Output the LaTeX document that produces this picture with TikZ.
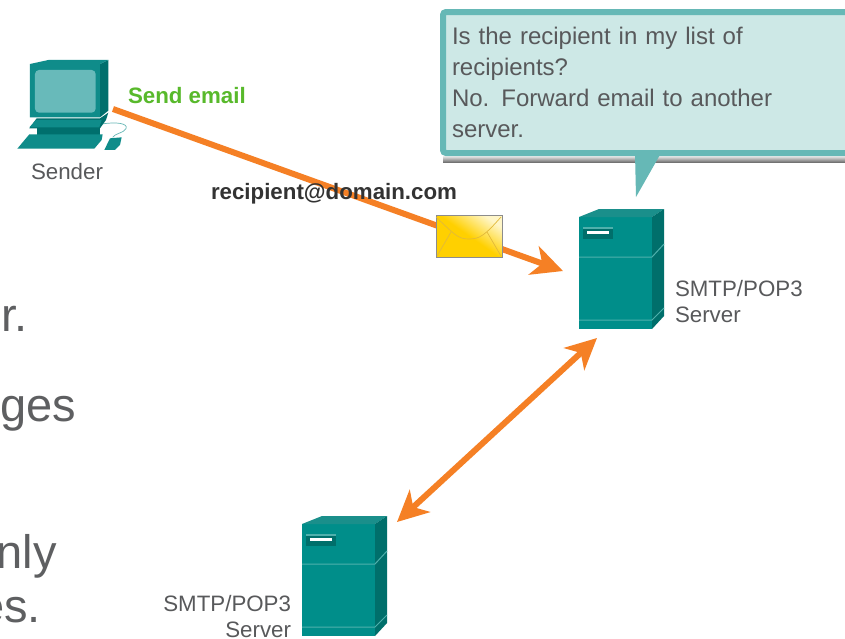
\documentclass[tikz,border=0pt]{standalone}
\usepackage{fontspec}
\setmainfont{Liberation Sans}
\usetikzlibrary{arrows.meta}
\definecolor{txtgray}{HTML}{58595B}
\definecolor{bigray}{HTML}{5E5F61}
\definecolor{orangeline}{HTML}{F58025}
\definecolor{greenlab}{HTML}{58B92B}
\definecolor{bubfill}{HTML}{CDE8E6}
\definecolor{bubedge}{HTML}{66B8B6}
\definecolor{srvfront}{HTML}{008E8A}
\definecolor{srvside}{HTML}{006F6B}
\definecolor{srvtop}{HTML}{1A8F8B}
\definecolor{srvline}{HTML}{4FB0AC}
\definecolor{pcfront}{HTML}{0F8C8A}
\definecolor{pcdark}{HTML}{006F6D}
\definecolor{pcscreen}{HTML}{68BABA}
\definecolor{envgold}{HTML}{FFD000}
\definecolor{envpale}{HTML}{FFF6C8}
\definecolor{envfold}{HTML}{E2B93A}
\tikzset{
  lab/.style={font=\fontsize{22.3}{26}\selectfont,text=txtgray,inner sep=0pt,outer sep=0pt},
  boldlab/.style={font=\fontsize{22.3}{26}\selectfont\bfseries,inner sep=0pt,outer sep=0pt},
  bigtxt/.style={font=\fontsize{47}{56}\selectfont,text=bigray,inner sep=0pt,anchor=base east},
  link/.style={draw=orangeline,line width=6pt},
  tipped/.style={-{Stealth[length=31pt,width=30pt,inset=9pt]}},
  bitipped/.style={{Stealth[length=31pt,width=30pt,inset=9pt]}-{Stealth[length=31pt,width=30pt,inset=9pt]}},
  pics/srvbox/.style={code={
    \fill[srvfront] (0,8) -- (73,8) -- (73,120) -- (0,120) -- cycle;
    \fill[srvtop] (0,8) -- (20,0) -- (85,0) -- (73,8) -- cycle;
    \fill[srvside] (73,8) -- (85,0) -- (85,107) -- (73,120) -- cycle;
    \draw[srvline,line width=1pt] (0,48) -- (73,48) -- (85,35);
    \draw[srvline,line width=1pt] (0,111) -- (73,111) -- (85,99);
    \fill[srvline] (4,18) rectangle (34,28);
    \fill[srvside] (4,20) rectangle (34,30);
    \fill[white] (8,22) rectangle (30,25);
  }}
}
\begin{document}
\begin{tikzpicture}[x=1pt,y=-1pt]
\useasboundingbox (0,0) rectangle (845,638);
\clip (0,0) rectangle (845,638);
\fill[white] (0,0) rectangle (845,638);

% clipped body text on the left
\node[bigtxt] (t1) at (28,331) {r.};
\node[bigtxt] (t2) at (76,421) {ges};
\node[bigtxt] (t3) at (57,568) {nly};
\node[bigtxt] (t4) at (41,622) {es.};

% computer
\begin{scope}[x=0.3333pt,y=-0.3333pt,shift={(0,120)}]
  \draw[bubedge,line width=0.7pt] (305,252) .. controls (350,245) and (385,250) .. (378,266) .. controls (370,280) and (345,280) .. (338,292);
  \fill[pcdark] (300,72) -- (325,60) -- (325,212) -- (300,232) -- cycle;
  \fill[pcfront] (90,72) -- (145,60) -- (325,60) -- (300,72) -- (300,232) -- (90,232) -- cycle;
  \fill[pcscreen,rounded corners=4pt] (105,90) rectangle (287,218);
  \fill[pcdark] (110,235) -- (300,235) -- (325,218) -- (318,240) -- (300,265) -- (88,265) -- cycle;
  \fill[pcfront] (88,262) -- (108,240) -- (305,240) -- (298,262) -- cycle;
  \fill[pcdark] (110,265) rectangle (300,285);
  \fill[pcfront] (52,326) -- (88,283) -- (308,283) -- (305,300) -- (283,326) -- cycle;
  \fill[pcfront] (313,330) -- (330,295) -- (365,292) -- (360,315) -- (345,330) -- cycle;
\end{scope}
\node[inner sep=0pt,minimum width=100pt,minimum height=92pt] (pc) at (67,104) {};
\node[lab] (sender) at (67,172) {Sender};

% servers
\pic at (579,209) {srvbox};
\pic at (302,516) {srvbox};
\node[inner sep=0pt,minimum width=85pt,minimum height=120pt] (srvA) at (621.5,269) {};
\node[inner sep=0pt,minimum width=85pt,minimum height=120pt] (srvB) at (344.5,576) {};
\node[lab,anchor=base west,align=left] (srvAlab) at (675,322) {SMTP/POP3\\Server};
\node[lab,anchor=base east,align=right] (srvBlab) at (291,637) {SMTP/POP3\\Server};

% connectors
\coordinate (mailStart) at (113,109);
\coordinate (mailEnd) at (563,271);
\coordinate (relayA) at (597,338);
\coordinate (relayB) at (397,522);
\draw[link,tipped] (mailStart) -- (mailEnd);
\draw[link,bitipped] (relayA) -- (relayB);

% envelope
\shade[left color=envgold,right color=envpale,middle color=envgold,shading angle=145] (436,215) rectangle (502,257);
\draw[draw=black!45,line width=1pt] (436,215) rectangle (502,257);
\draw[envfold,line width=0.7pt] (436,217) .. controls (455,235) and (458,239) .. (469,239) .. controls (480,239) and (485,235) .. (501,217);
\draw[envfold,line width=0.7pt] (437,256) -- (451,232) (501,256) -- (487,232);

% labels
\node[boldlab,text=greenlab,anchor=west] (send) at (128,96) {Send email};
\node[boldlab,text=black!80,anchor=west] (addr) at (211,194) {recipient@domain.com};

% bubble
\shade[top color=white,bottom color=black!55] (443,155) rectangle (845,162);
\node[draw=bubedge,fill=bubfill,line width=6pt,rounded corners=3pt,anchor=north west,outer sep=0pt,
      text width=400pt,minimum height=141pt,inner xsep=9pt,inner ysep=4pt,
      text=txtgray,align=left,font=\fontsize{24}{31}\selectfont] (bub) at (443,12)
  {Is the recipient in my list of\\recipients?\\No. Forward email to another\\server.};
\fill[bubedge] (635,153) -- (661,153) -- (636,197) -- cycle;
\end{tikzpicture}
\end{document}
